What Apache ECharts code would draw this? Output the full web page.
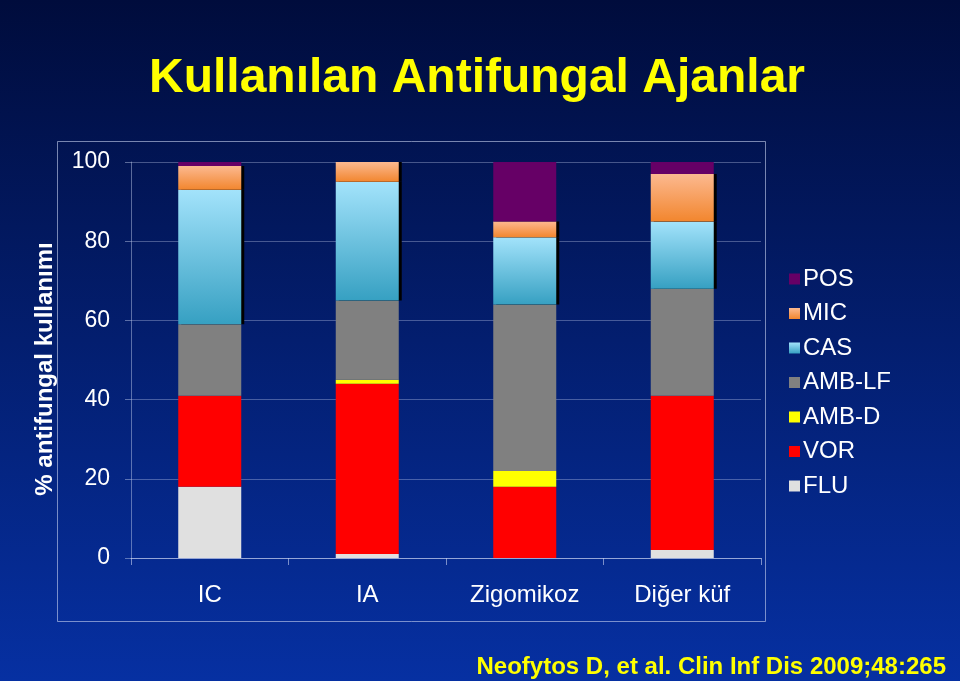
<!DOCTYPE html>
<html>
<head>
<meta charset="utf-8">
<script src="https://cdn.jsdelivr.net/npm/echarts@6/dist/echarts.min.js"></script>
<style>html,body{margin:0;padding:0;background:#000d40;}#c{width:960px;height:681px;}</style>
</head>
<body>
<div id="c"></div>
<script>
var categories = ['IC', 'IA', 'Zigomikoz', 'Diğer küf'];
var FLU = [18, 1, 0, 2];
var VOR = [23, 43, 18, 39];
var AMB_D = [0, 1, 4, 0];
var AMB_LF = [18, 20, 42, 27];
var CAS = [34, 30, 17, 17];
var MIC = [6, 5, 4, 12];
var POS = [1, 0, 15, 3];
var yTicks = [0, 20, 40, 60, 80, 100];

var font = 'Liberation Sans, Arial, sans-serif';
var chart = echarts.init(document.getElementById('c'), null, {renderer: 'canvas'});

function grad(top, bottom) {
  return new echarts.graphic.LinearGradient(0, 0, 0, 1, [
    {offset: 0, color: top}, {offset: 1, color: bottom}
  ]);
}

var seriesDefs = [
  {name: 'FLU', data: FLU, color: '#e0e0e0'},
  {name: 'VOR', data: VOR, color: '#ff0000'},
  {name: 'AMB-D', data: AMB_D, color: '#ffff00'},
  {name: 'AMB-LF', data: AMB_LF, color: '#808080'},
  {name: 'CAS', data: CAS, color: grad('#a3e3fb', '#36a0c2'), shadow: true},
  {name: 'MIC', data: MIC, color: grad('#fcb990', '#f2862e'), shadow: true},
  {name: 'POS', data: POS, color: '#660066'}
];

var series = seriesDefs.map(function (s) {
  var st = {color: s.color};
  if (s.shadow) {
    st.shadowColor = '#000000';
    st.shadowBlur = 0;
    st.shadowOffsetX = 3;
    st.shadowOffsetY = 0;
  }
  return {
    name: s.name,
    type: 'bar',
    stack: 'total',
    barWidth: '40%',
    data: s.data,
    itemStyle: st,
    emphasis: {disabled: true}
  };
});

var option = {
  animation: false,
  backgroundColor: new echarts.graphic.LinearGradient(0, 0, 0, 1, [
    {offset: 0, color: '#000c3c'},
    {offset: 1, color: '#0630a2'}
  ]),
  title: {
    text: 'Kullanılan Antifungal Ajanlar',
    left: 472, top: 50, textAlign: 'center',
    textStyle: {color: '#ffff00', fontFamily: font, fontWeight: 'bold', fontSize: 48}
  },
  graphic: [
    {type: 'rect', shape: {x: 57.5, y: 141.5, width: 708, height: 480},
     style: {fill: 'none', stroke: 'rgba(200,210,240,0.6)', lineWidth: 1}, silent: true},
    {type: 'text', right: 14, top: 655,
     style: {text: 'Neofytos D, et al. Clin Inf Dis 2009;48:265', fill: '#ffff00',
             font: 'bold 24px ' + font}},
    {type: 'text', x: 45, y: 369, rotation: Math.PI / 2,
     style: {text: '% antifungal kullanımı', fill: '#ffffff', font: 'bold 24px ' + font,
             align: 'center', verticalAlign: 'middle'}}
  ],
  legend: {
    orient: 'vertical',
    left: 784, top: 262,
    itemWidth: 11, itemHeight: 11, itemGap: 10.5,
    icon: 'rect',
    data: ['POS', 'MIC', 'CAS', 'AMB-LF', 'AMB-D', 'VOR', 'FLU'],
    textStyle: {color: '#ffffff', fontFamily: font, fontSize: 24, padding: [0, 0, 0, -2]}
  },
  grid: {left: 131, right: 199, top: 162, bottom: 123, containLabel: false},
  xAxis: {
    type: 'category',
    data: categories,
    axisLine: {lineStyle: {color: 'rgba(200,210,240,0.6)'}},
    axisTick: {show: true, length: 7, lineStyle: {color: 'rgba(200,210,240,0.6)'}},
    axisLabel: {color: '#ffffff', fontFamily: font, fontSize: 24, margin: 25}
  },
  yAxis: {
    type: 'value',
    min: 0, max: 100, interval: 20,
    axisLine: {show: true, lineStyle: {color: 'rgba(200,210,240,0.45)'}},
    axisTick: {show: true, length: 6, lineStyle: {color: 'rgba(200,210,240,0.45)'}},
    splitLine: {show: true, lineStyle: {color: 'rgba(200,210,240,0.35)'}},
    axisLabel: {color: '#ffffff', fontFamily: font, fontSize: 23, margin: 21,
      formatter: function (v) { return yTicks.indexOf(v) >= 0 ? String(v) : ''; }}
  },
  series: series
};
chart.setOption(option);
</script>
</body>
</html>
